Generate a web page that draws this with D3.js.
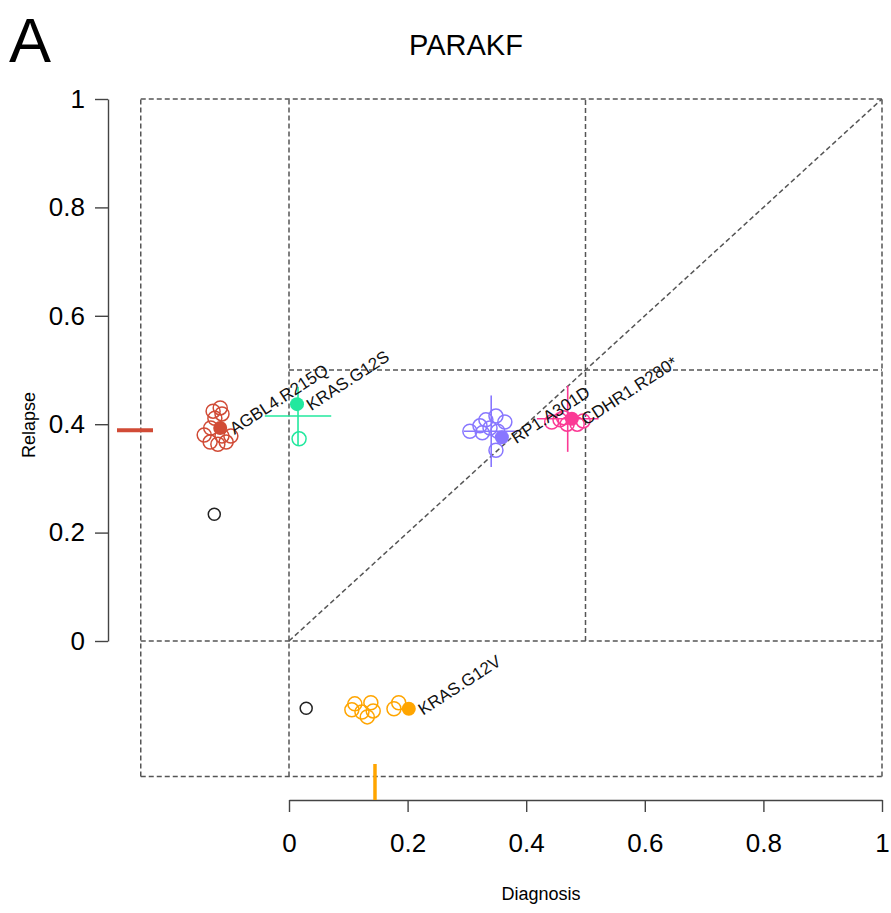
<!DOCTYPE html>
<html>
<head>
<meta charset="utf-8">
<script src="https://cdn.jsdelivr.net/npm/d3@7"></script>
<style>
  html, body { margin: 0; padding: 0; background: #fff; }
  svg { display: block; font-family: "Liberation Sans", Arial, sans-serif; }
</style>
</head>
<body>
<svg id="chart" width="891" height="913"></svg>
<script>
// Mutation clusters: representative (filled) points
const clusterNames = ["AGBL4.R215Q", "KRAS.G12S", "RP1.A301D", "CDHR1.R280*", "KRAS.G12V"];
const clusterColors = ["#D14B36", "#22E89E", "#8877FF", "#FB3A95", "#FFA500"];
const repDiagnosis = [-0.116, 0.0135, 0.359, 0.477, 0.202];
const repRelapse   = [0.393, 0.437, 0.376, 0.410, -0.125];

// Cluster members (open circles)
const memberCluster = [
  0,0,0,0,0,0,0,0,0,0,0,
  1,
  2,2,2,2,2,2,2,2,2,
  3,3,3,3,3,3,
  4,4,4,4,4,4,4,4
];
const memberDiagnosis = [
  -0.116,-0.128,-0.113,-0.125,-0.132,-0.143,-0.133,-0.120,-0.106,-0.098,-0.113,
  0.017,
  0.305,0.322,0.332,0.349,0.364,0.339,0.352,0.326,0.349,
  0.443,0.457,0.469,0.486,0.496,0.463,
  0.111,0.138,0.106,0.123,0.142,0.132,0.185,0.177
];
const memberRelapse = [
  0.430,0.424,0.419,0.411,0.393,0.380,0.367,0.363,0.367,0.378,0.378,
  0.373,
  0.387,0.397,0.408,0.415,0.404,0.393,0.387,0.384,0.352,
  0.404,0.408,0.400,0.400,0.406,0.412,
  -0.116,-0.114,-0.127,-0.131,-0.129,-0.140,-0.114,-0.125
];

// Unassigned mutations
const otherDiagnosis = [-0.126, 0.029];
const otherRelapse   = [0.234, -0.124];

// Cluster centre uncertainty (crosshairs)
const crossCluster   = [1, 2, 3];
const crossDiagnosis = [0.0152, 0.341, 0.470];
const crossRelapse   = [0.415, 0.387, 0.410];
const crossHalfX     = [0.056, 0.046, 0.052];
const crossHalfY     = [0.054, 0.066, 0.061];

// Marginal marks for clusters absent at one time point
const relapseRugCluster = [0];
const relapseRugValue   = [0.389];
const diagnosisRugCluster = [4];
const diagnosisRugValue   = [0.145];

const ticks = [0, 0.2, 0.4, 0.6, 0.8, 1];
const tickLabels = ["0", "0.2", "0.4", "0.6", "0.8", "1"];

const svg = d3.select("#chart");
const x = d3.scaleLinear().domain([0, 1]).range([289, 882]);
const y = d3.scaleLinear().domain([0, 1]).range([641, 99]);
const lo = -0.25;

// Panel letter and title
svg.append("text").attr("x", 9).attr("y", 62).attr("font-size", 63).text("A");
svg.append("text").attr("x", 466).attr("y", 55).attr("text-anchor", "middle")
  .attr("font-size", 29).text("PARAKF");

// Axes
const yAxis = d3.axisLeft(y).tickValues(ticks).tickFormat((d, i) => tickLabels[i])
  .tickSizeOuter(0).tickSizeInner(13).tickPadding(10);
const gy = svg.append("g").attr("transform", "translate(108,0)").call(yAxis);
const xAxis = d3.axisBottom(x).tickValues(ticks).tickFormat((d, i) => tickLabels[i])
  .tickSizeOuter(0).tickSizeInner(12).tickPadding(22);
const gx = svg.append("g").attr("transform", "translate(0,800)").call(xAxis);
[gx, gy].forEach(g => {
  g.select(".domain").attr("stroke", "#444").attr("stroke-width", 1.4);
  g.selectAll(".tick line").attr("stroke", "#444").attr("stroke-width", 1.4);
  g.selectAll(".tick text").attr("font-size", 26).attr("fill", "#000")
    .attr("font-family", "Liberation Sans, Arial, sans-serif");
});

svg.append("text").attr("transform", "translate(35,425) rotate(-90)")
  .attr("text-anchor", "middle").attr("font-size", 18).text("Relapse");
svg.append("text").attr("x", 541).attr("y", 900).attr("text-anchor", "middle")
  .attr("font-size", 18).text("Diagnosis");

// Dashed guide lines
const guides = [
  [lo, lo, 1, lo], [lo, 1, 1, 1], [lo, lo, lo, 1], [1, lo, 1, 1],
  [0, lo, 0, 1], [0.5, 0, 0.5, 1],
  [lo, 0, 1, 0], [0, 0.5, 1, 0.5],
  [0, 0, 1, 1]
];
svg.append("g").selectAll("line").data(guides).join("line")
  .attr("x1", d => x(d[0])).attr("y1", d => y(d[1]))
  .attr("x2", d => x(d[2])).attr("y2", d => y(d[3]))
  .attr("stroke", "#555").attr("stroke-width", 1.5).attr("stroke-dasharray", "5,3");

// Marginal rug marks
svg.append("g").selectAll("line").data(relapseRugValue).join("line")
  .attr("x1", 117).attr("x2", 153).attr("y1", d => y(d)).attr("y2", d => y(d))
  .attr("stroke", (d, i) => clusterColors[relapseRugCluster[i]]).attr("stroke-width", 4);
svg.append("g").selectAll("line").data(diagnosisRugValue).join("line")
  .attr("y1", 764).attr("y2", 800).attr("x1", d => x(d)).attr("x2", d => x(d))
  .attr("stroke", (d, i) => clusterColors[diagnosisRugCluster[i]]).attr("stroke-width", 3.5);

// Crosshairs
const cross = svg.append("g");
crossCluster.forEach((c, i) => {
  const col = clusterColors[c];
  cross.append("line")
    .attr("x1", x(crossDiagnosis[i] - crossHalfX[i])).attr("x2", x(crossDiagnosis[i] + crossHalfX[i]))
    .attr("y1", y(crossRelapse[i])).attr("y2", y(crossRelapse[i]))
    .attr("stroke", col).attr("stroke-width", 1.6);
  cross.append("line")
    .attr("x1", x(crossDiagnosis[i])).attr("x2", x(crossDiagnosis[i]))
    .attr("y1", y(crossRelapse[i] - crossHalfY[i])).attr("y2", y(crossRelapse[i] + crossHalfY[i]))
    .attr("stroke", col).attr("stroke-width", 1.6);
});

// Open circles: cluster members
svg.append("g").selectAll("circle").data(memberDiagnosis).join("circle")
  .attr("cx", d => x(d)).attr("cy", (d, i) => y(memberRelapse[i])).attr("r", 7)
  .attr("fill", "none").attr("stroke", (d, i) => clusterColors[memberCluster[i]])
  .attr("stroke-width", 1.5);

// Unassigned mutations
svg.append("g").selectAll("circle").data(otherDiagnosis).join("circle")
  .attr("cx", d => x(d)).attr("cy", (d, i) => y(otherRelapse[i])).attr("r", 6)
  .attr("fill", "none").attr("stroke", "#222").attr("stroke-width", 1.5);

// Representative points and labels
svg.append("g").selectAll("circle").data(repDiagnosis).join("circle")
  .attr("cx", d => x(d)).attr("cy", (d, i) => y(repRelapse[i])).attr("r", 7)
  .attr("fill", (d, i) => clusterColors[i]);

svg.append("g").selectAll("text").data(clusterNames).join("text")
  .attr("transform", (d, i) => `translate(${x(repDiagnosis[i]) + 11},${y(repRelapse[i]) + 2}) rotate(-33)`)
  .attr("dy", "0.35em").attr("font-size", 17).attr("fill", "#111").text(d => d);
</script>
</body>
</html>
